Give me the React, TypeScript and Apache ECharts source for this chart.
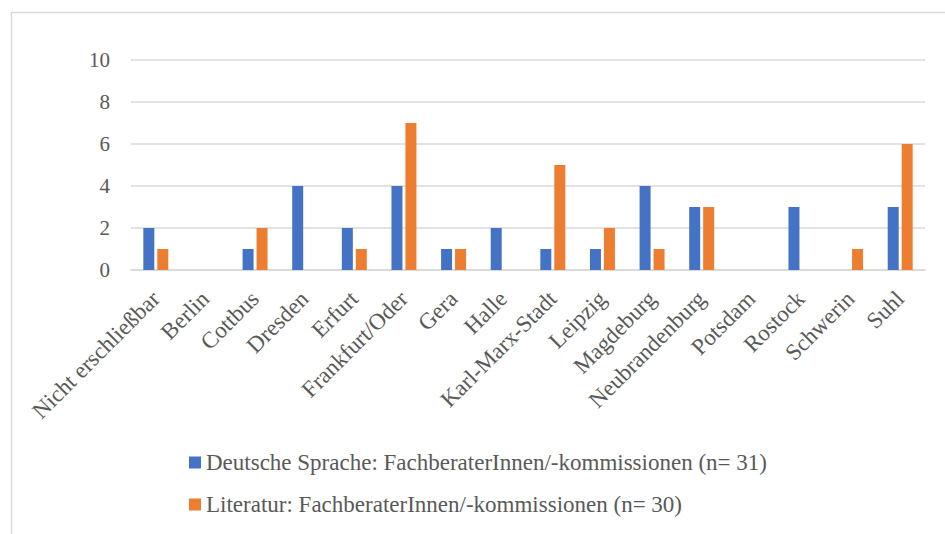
import React, { useEffect, useRef } from "react";
import * as echarts from "echarts";

// Bezirke (plus one "not determinable" bucket)
const categories = [
  "Nicht erschließbar",
  "Berlin",
  "Cottbus",
  "Dresden",
  "Erfurt",
  "Frankfurt/Oder",
  "Gera",
  "Halle",
  "Karl-Marx-Stadt",
  "Leipzig",
  "Magdeburg",
  "Neubrandenburg",
  "Potsdam",
  "Rostock",
  "Schwerin",
  "Suhl",
];

const seriesNames = [
  "Deutsche Sprache: FachberaterInnen/-kommissionen (n= 31)",
  "Literatur: FachberaterInnen/-kommissionen (n= 30)",
];

const deutscheSprache = [2, 0, 1, 4, 2, 4, 1, 2, 1, 1, 4, 3, 0, 3, 0, 3];
const literatur = [1, 0, 2, 0, 1, 7, 1, 0, 5, 2, 1, 3, 0, 0, 1, 6];

const FONT = "'Liberation Serif', 'Times New Roman', serif";
const TEXT = "#595959";
const GRID = "#D9D9D9";

export default function App() {
  const ref = useRef<HTMLDivElement>(null);

  useEffect(() => {
    if (!ref.current) return;
    const chart = echarts.init(ref.current, null, { renderer: "svg" });
    chart.setOption({
      animation: false,
      backgroundColor: "#ffffff",
      textStyle: { fontFamily: FONT },
      graphic: [
        {
          type: "rect",
          left: 9,
          top: 10,
          shape: { width: 1000, height: 1000 },
          style: { fill: "none", stroke: GRID, lineWidth: 1.5 },
          silent: true,
        },
      ],
      grid: { left: 131, right: 20, top: 60, bottom: 264 },
      legend: {
        orient: "vertical",
        left: 189,
        top: 451,
        padding: 0,
        itemWidth: 12,
        itemHeight: 12,
        itemGap: 19,
        icon: "rect",
        textStyle: { color: TEXT, fontSize: 23, fontFamily: FONT },
        data: seriesNames,
      },
      xAxis: {
        type: "category",
        data: categories,
        axisLine: { show: true, lineStyle: { color: GRID, width: 1.5 } },
        axisTick: { show: false },
        axisLabel: {
          interval: 0,
          rotate: 45,
          margin: 25,
          color: TEXT,
          fontSize: 23,
          fontFamily: FONT,
        },
      },
      yAxis: {
        type: "value",
        min: 0,
        max: 10,
        interval: 2,
        axisLine: { show: false },
        axisTick: { show: false },
        axisLabel: { color: TEXT, fontSize: 21, fontFamily: FONT, margin: 21 },
        splitLine: { lineStyle: { color: GRID, width: 1.5 } },
      },
      series: [
        {
          name: seriesNames[0],
          type: "bar",
          data: deutscheSprache,
          barWidth: 11,
          barGap: "27%",
          itemStyle: { color: "#4472C4" },
        },
        {
          name: seriesNames[1],
          type: "bar",
          data: literatur,
          barWidth: 11,
          itemStyle: { color: "#ED7D31" },
        },
      ],
    });
    return () => chart.dispose();
  }, []);

  return (
    <div
      ref={ref}
      style={{ position: "fixed", left: 0, top: 0, width: 945, height: 534 }}
    />
  );
}
